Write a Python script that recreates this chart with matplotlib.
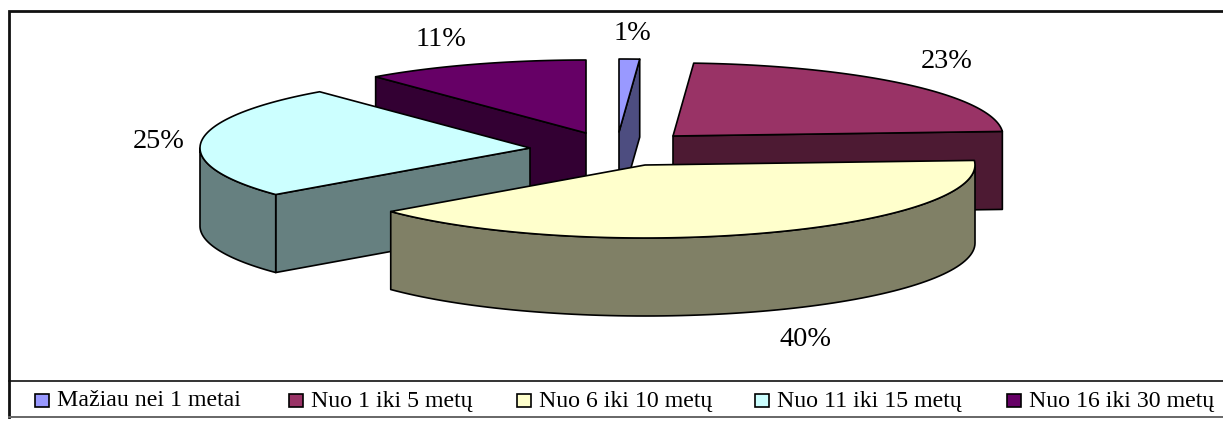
import numpy as np
import matplotlib
matplotlib.use("Agg")
import matplotlib.pyplot as plt
from matplotlib.patches import Polygon, Rectangle

categories = ["Mažiau nei 1 metai", "Nuo 1 iki 5 metų", "Nuo 6 iki 10 metų",
              "Nuo 11 iki 15 metų", "Nuo 16 iki 30 metų"]
values = [1, 23, 40, 25, 11]

top_colors = ["#9999FF", "#993366", "#FFFFCC", "#CCFFFF", "#660066"]
side_colors = ["#4D4D80", "#4D1A33", "#808066", "#668080", "#330033"]

# Layout, in pixels of the 1223x421 canvas
apexes = [(619, 132), (673, 136), (645, 165), (530, 148), (586, 133)]
label_pos = [(632, 34), (947, 62), (805, 339), (159, 142), (441, 40)]
legend_box_x = [35, 289, 517, 755, 1007]
draw_order = [4, 0, 1, 3, 2]
RX, RY, DEPTH = 330, 73, 78

plt.rcParams["font.family"] = ["Liberation Serif", "DejaVu Serif"]
fig = plt.figure(figsize=(12.23, 4.21), dpi=100)
ax = fig.add_axes([0, 0, 1, 1])
ax.set_xlim(0, 1223)
ax.set_ylim(421, 0)
ax.axis("off")

# Chart frame and legend strip
ax.plot([1223, 9, 9], [11, 11, 417], color="#111111", lw=2.0, solid_joinstyle="miter", zorder=1)
ax.plot([9, 1223], [381, 381], color="#111111", lw=1.2, zorder=1)
ax.plot([9, 1223], [417, 417], color="#666666", lw=1.4, zorder=1)


def rim(apex, a0, a1, n=90):
    """Points on the outer edge of a slice, angles clockwise from 12 o'clock."""
    t = np.radians(np.linspace(a0, a1, n))
    return np.column_stack([apex[0] + RX * np.sin(t), apex[1] - RY * np.cos(t)])


def face(points, color, z):
    ax.add_patch(Polygon(points, closed=True, facecolor=color, edgecolor="black",
                         lw=1.2, joinstyle="round", zorder=z))


down = np.array([0, DEPTH])
edges = np.concatenate([[0], np.cumsum(values)]) / sum(values) * 360

for rank, i in enumerate(draw_order):
    a0, a1 = edges[i], edges[i + 1]
    apex = np.array(apexes[i], float)
    z = 2 + rank
    # Cut faces that turn toward the viewer
    for ang, visible in ((a0, np.sin(np.radians(a0)) < -1e-6), (a1, np.sin(np.radians(a1)) > 1e-6)):
        if visible:
            p = rim(apex, ang, ang, 1)[0]
            face([apex, p, p + down, apex + down], side_colors[i], z)
    # Outer wall on the front half of the ellipse
    lo, hi = max(a0, 90), min(a1, 270)
    if hi > lo:
        r = rim(apex, lo, hi)
        face(np.vstack([r, (r + down)[::-1]]), side_colors[i], z)
    # Top surface
    face(np.vstack([[apex], rim(apex, a0, a1)]), top_colors[i], z)

# Percentage labels
for v, (x, y) in zip(values, label_pos):
    ax.text(x, y, f"{v}%", fontsize=20.3, ha="center", va="center", color="black", zorder=10)

# Legend entries
for name, color, x in zip(categories, top_colors, legend_box_x):
    ax.add_patch(Rectangle((x, 394), 14, 13, facecolor=color, edgecolor="black", lw=1.2, zorder=10))
    ax.text(x + 22, 401, name, fontsize=17.2, ha="left", va="center", color="black", zorder=10)

fig.savefig("out.png", dpi=100)
